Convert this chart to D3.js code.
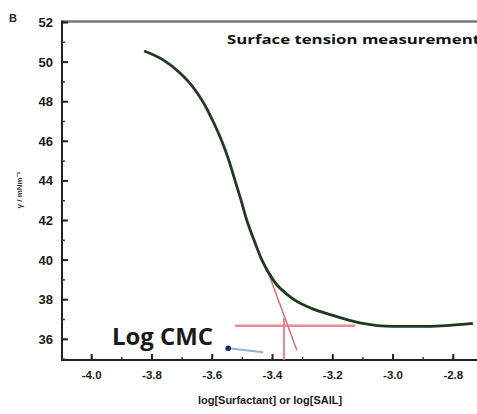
<!DOCTYPE html>
<html><head><meta charset="utf-8">
<script src="https://cdn.jsdelivr.net/npm/d3@7"></script>
<style>body{margin:0;background:#fff}svg{display:block}</style>
</head><body>
<svg id="c" width="477" height="414"></svg>
<script>
const curveX = [-3.826,-3.763,-3.707,-3.667,-3.631,-3.597,-3.568,-3.544,-3.524,-3.504,-3.485,-3.461,-3.435,-3.398,-3.328,-3.269,-3.219,-3.110,-3.000,-2.887,-2.735];
const curveY = [50.56,50.11,49.45,48.8,48.0,47.0,46.0,45.0,44.0,43.0,42.0,41.0,40.0,39.0,38.0,37.55,37.3,36.83,36.65,36.65,36.8];
const xTicks = [-4.0,-3.8,-3.6,-3.4,-3.2,-3.0,-2.8];
const yTicks = [36,38,40,42,44,46,48,50,52];
const hLineX = [-3.524,-3.125], hLineY = [36.68,36.68];
const tanX = [-3.415,-3.319], tanY = [39.4,35.45];
const vLineX = [-3.362,-3.362], vLineY = [37.07,34.95];
const arrowX = [-3.431,-3.547], arrowY = [35.35,35.55];
const xTitle = "log[Surfactant] or log[SAIL]";
const yTitle = "γ / mNm⁻¹";
const annot = "Log CMC";
const plotTitle = "Surface tension measurement";

const svg = d3.select("#c");
const x = d3.scaleLinear().domain([-4.0,-2.8]).range([91.7,453.3]);
const y = d3.scaleLinear().domain([36,52]).range([339.3,22.5]);
const pL = 62, pB = 360, pT = 21.5, pR = 477;
const F = "'Liberation Sans', Arial, sans-serif";

// frame
svg.append("line").attr("x1",pL).attr("x2",pR).attr("y1",pT).attr("y2",pT).attr("stroke","#777").attr("stroke-width",2.5);
svg.append("line").attr("x1",pL).attr("x2",pL).attr("y1",pT-1).attr("y2",pB+1).attr("stroke","#222").attr("stroke-width",2);
svg.append("line").attr("x1",pL-1).attr("x2",pR).attr("y1",pB).attr("y2",pB).attr("stroke","#222").attr("stroke-width",2);

// x axis ticks
const xMinor = d3.range(-4.0,-2.75,0.1);
svg.selectAll(".xm").data(xMinor).join("line").attr("x1",d=>x(d)).attr("x2",d=>x(d))
  .attr("y1",pB).attr("y2",pB-3).attr("stroke","#333").attr("stroke-width",1.5);
svg.selectAll(".xM").data(xTicks).join("line").attr("x1",d=>x(d)).attr("x2",d=>x(d))
  .attr("y1",pB).attr("y2",pB-6).attr("stroke","#222").attr("stroke-width",2);
svg.selectAll(".xl").data(xTicks).join("text").attr("x",d=>x(d)).attr("y",pB+19)
  .attr("text-anchor","middle").attr("font-family",F).attr("font-weight","bold").attr("font-size",11.5).attr("fill","#1a1a1a")
  .text(d=>d3.format(".1f")(d).replace("−","-"));

// y axis ticks
const yMinor = d3.range(35,52.1,1);
svg.selectAll(".ym").data(yMinor).join("line").attr("x1",pL).attr("x2",pL+3)
  .attr("y1",d=>y(d)).attr("y2",d=>y(d)).attr("stroke","#333").attr("stroke-width",1.5);
svg.selectAll(".yM").data(yTicks).join("line").attr("x1",pL).attr("x2",pL+6)
  .attr("y1",d=>y(d)).attr("y2",d=>y(d)).attr("stroke","#222").attr("stroke-width",2);
svg.selectAll(".yl").data(yTicks).join("text").attr("x",53).attr("y",d=>y(d)+4.5)
  .attr("text-anchor","end").attr("font-family",F).attr("font-weight","bold").attr("font-size",13).attr("fill","#1a1a1a")
  .text(d=>d);

// panel label
svg.append("text").attr("x",9).attr("y",22).attr("font-family",F).attr("font-weight","bold").attr("font-size",11).attr("fill","#222").text("B");

// axis titles
svg.append("text").attr("x",270).attr("y",404).attr("text-anchor","middle").attr("font-family",F).attr("font-weight","bold")
  .attr("font-size",11).attr("fill","#1a1a1a").text(xTitle);
svg.append("text").attr("transform","translate(22,190) rotate(-90)").attr("text-anchor","middle").attr("font-family",F)
  .attr("font-weight","bold").attr("font-size",8).attr("fill","#333").text(yTitle);

// title
svg.append("text").attr("x",227).attr("y",44).attr("font-family","'Open Sans', sans-serif").attr("font-weight","bold").attr("font-size",11.5)
  .attr("textLength",253).attr("lengthAdjust","spacingAndGlyphs").attr("fill","#111").text(plotTitle);

// red construction lines
const seg = (xs,ys) => xs.map((v,i)=>[x(v),y(ys[i])]);
const line = d3.line();
svg.append("path").attr("d",line(seg(hLineX,hLineY))).attr("stroke","#ee8a94").attr("stroke-width",2.5).attr("fill","none");
svg.append("path").attr("d",line(seg(tanX,tanY))).attr("stroke","#d9707c").attr("stroke-width",1.5).attr("fill","none");
svg.append("path").attr("d",line(seg(vLineX,vLineY))).attr("stroke","#e47a86").attr("stroke-width",1.8).attr("fill","none");

// curve
const pts = curveX.map((v,i)=>[x(v),y(curveY[i])]);
svg.append("path").attr("d",d3.line().curve(d3.curveMonotoneX)(pts)).attr("stroke","#1f3a1c").attr("stroke-width",2.8).attr("fill","none");

// arrow
const ap = seg(arrowX,arrowY);
svg.append("path").attr("d",line(ap)).attr("stroke","#8fb0dc").attr("stroke-width",2).attr("fill","none");
svg.append("circle").attr("cx",ap[1][0]).attr("cy",ap[1][1]).attr("r",2.8).attr("fill","#1d2e6a");

// annotation
svg.append("text").attr("x",112).attr("y",345).attr("font-family","'Open Sans', sans-serif").attr("font-weight","bold")
  .attr("font-size",23).attr("textLength",101).attr("lengthAdjust","spacingAndGlyphs").attr("fill","#1a1a1a").text(annot);
</script>
</body></html>
